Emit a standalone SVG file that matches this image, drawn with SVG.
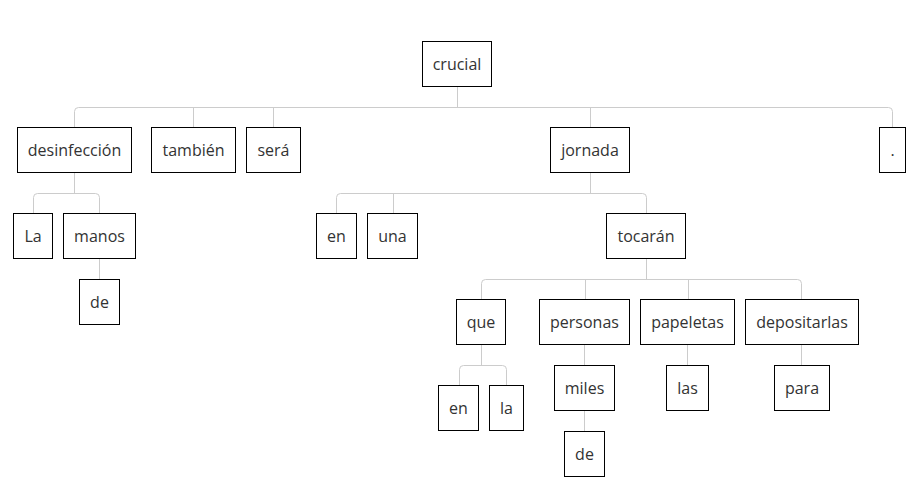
<svg xmlns="http://www.w3.org/2000/svg" width="916" height="490" viewBox="0 0 916 490">
<style>
.n rect{fill:#fff;stroke:#000;stroke-width:1}
.n text{font-family:"Open Sans","DejaVu Sans",sans-serif;font-size:16px;fill:#333;text-anchor:middle}
#edges path{fill:none;stroke:#ccc;stroke-width:1}
</style>
<rect width="916" height="490" fill="#fff"/>
<g id="edges">
<path d="M457.5,86.5V107.5"/>
<path d="M74.5,127.5V111.5Q74.5,107.5 78.5,107.5H888.5Q892.5,107.5 892.5,111.5V127.5"/>
<path d="M193.5,107.5V127.5M273.5,107.5V127.5M590.5,107.5V127.5"/>
<path d="M74.5,172.5V193.5"/>
<path d="M33.5,213.5V197.5Q33.5,193.5 37.5,193.5H95.5Q99.5,193.5 99.5,197.5V213.5"/>
<path d="M99.5,258.5V279.5"/>
<path d="M590.5,172.5V193.5"/>
<path d="M336.5,213.5V197.5Q336.5,193.5 340.5,193.5H642.5Q646.5,193.5 646.5,197.5V213.5M393.5,193.5V213.5"/>
<path d="M646.5,258.5V279.5"/>
<path d="M481.5,299.5V283.5Q481.5,279.5 485.5,279.5H797.5Q801.5,279.5 801.5,283.5V299.5M585.5,279.5V299.5M688.5,279.5V299.5"/>
<path d="M481.5,344.5V365.5"/>
<path d="M459.5,385.5V369.5Q459.5,365.5 463.5,365.5H502.5Q506.5,365.5 506.5,369.5V385.5"/>
<path d="M584.5,344.5V365.5M584.5,410.5V431.5M687.5,344.5V365.5M801.5,344.5V365.5"/>
</g>
<g id="n-crucial" class="n"><rect x="422.5" y="41.5" width="69" height="45"/><text x="457" y="69.5">crucial</text></g>
<g id="n-desinfeccion" class="n"><rect x="17.5" y="127.5" width="114" height="45"/><text x="74.5" y="155.5">desinfección</text></g>
<g id="n-tambien" class="n"><rect x="151.5" y="127.5" width="84" height="45"/><text x="193.5" y="155.5">también</text></g>
<g id="n-sera" class="n"><rect x="246.5" y="127.5" width="54" height="45"/><text x="273.5" y="155.5">será</text></g>
<g id="n-jornada" class="n"><rect x="550.5" y="127.5" width="79" height="45"/><text x="590" y="155.5">jornada</text></g>
<g id="n-punto" class="n"><rect x="879.5" y="127.5" width="26" height="45"/><text x="892.5" y="155.5">.</text></g>
<g id="n-La" class="n"><rect x="13.5" y="213.5" width="39" height="45"/><text x="33" y="241.5">La</text></g>
<g id="n-manos" class="n"><rect x="63.5" y="213.5" width="72" height="45"/><text x="99.5" y="241.5">manos</text></g>
<g id="n-de1" class="n"><rect x="79.5" y="279.5" width="40" height="45"/><text x="99.5" y="307.5">de</text></g>
<g id="n-en1" class="n"><rect x="316.5" y="213.5" width="40" height="45"/><text x="336.5" y="241.5">en</text></g>
<g id="n-una" class="n"><rect x="367.5" y="213.5" width="50" height="45"/><text x="392.5" y="241.5">una</text></g>
<g id="n-tocaran" class="n"><rect x="606.5" y="213.5" width="79" height="45"/><text x="646" y="241.5">tocarán</text></g>
<g id="n-que" class="n"><rect x="456.5" y="299.5" width="49" height="45"/><text x="481" y="327.5">que</text></g>
<g id="n-personas" class="n"><rect x="539.5" y="299.5" width="90" height="45"/><text x="584.5" y="327.5">personas</text></g>
<g id="n-papeletas" class="n"><rect x="640.5" y="299.5" width="94" height="45"/><text x="687.5" y="327.5">papeletas</text></g>
<g id="n-depositarlas" class="n"><rect x="745.5" y="299.5" width="113" height="45"/><text x="802" y="327.5">depositarlas</text></g>
<g id="n-en2" class="n"><rect x="438.5" y="385.5" width="40" height="45"/><text x="458.5" y="413.5">en</text></g>
<g id="n-la" class="n"><rect x="489.5" y="385.5" width="34" height="45"/><text x="506.5" y="413.5">la</text></g>
<g id="n-miles" class="n"><rect x="554.5" y="365.5" width="60" height="45"/><text x="584.5" y="393.5">miles</text></g>
<g id="n-de2" class="n"><rect x="564.5" y="431.5" width="40" height="45"/><text x="584.5" y="459.5">de</text></g>
<g id="n-las" class="n"><rect x="666.5" y="365.5" width="42" height="45"/><text x="687.5" y="393.5">las</text></g>
<g id="n-para" class="n"><rect x="774.5" y="365.5" width="55" height="45"/><text x="802" y="393.5">para</text></g>
</svg>
